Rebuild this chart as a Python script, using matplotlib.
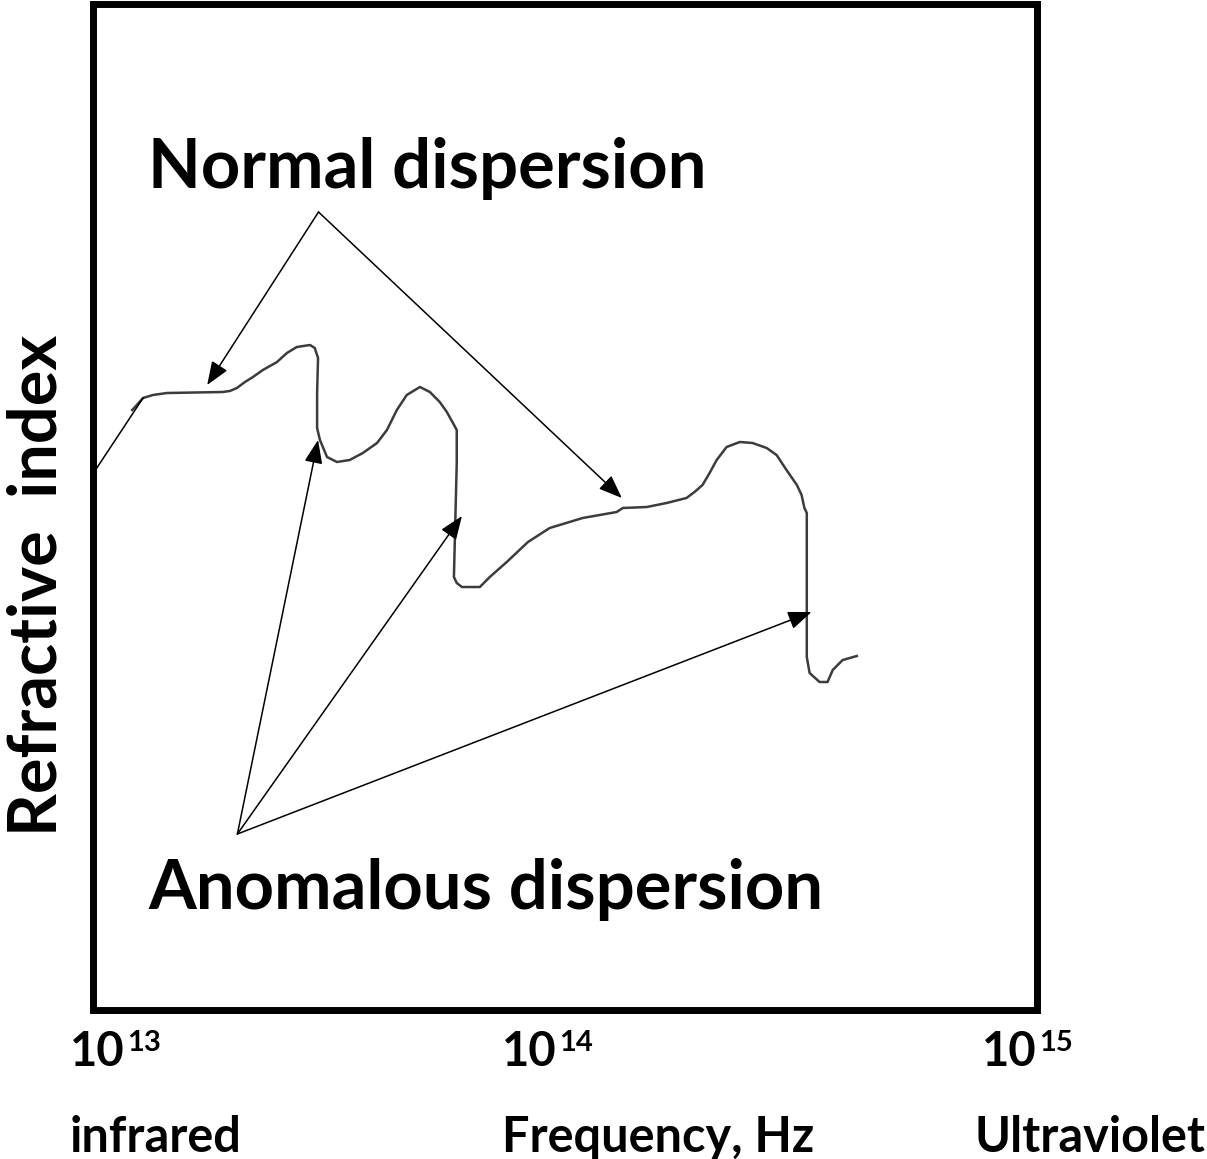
import matplotlib
matplotlib.use('Agg')
import matplotlib.pyplot as plt

# refractive index curve
# x: log10 of frequency (Hz), y: refractive index in arbitrary units
log_freq = [13.082, 13.088, 13.105, 13.126, 13.156, 13.274, 13.289, 13.304, 13.321, 13.338,
            13.359, 13.389, 13.410, 13.431, 13.459, 13.469, 13.476, 13.474, 13.474, 13.480,
            13.495, 13.516, 13.543, 13.571, 13.601, 13.622, 13.643, 13.664, 13.692, 13.713,
            13.734, 13.749, 13.762, 13.770, 13.770, 13.764, 13.770, 13.781, 13.819, 13.840,
            13.876, 13.921, 13.967, 14.037, 14.109, 14.122, 14.173, 14.215, 14.257, 14.274,
            14.291, 14.306, 14.321, 14.342, 14.370, 14.397, 14.427, 14.448, 14.469, 14.491,
            14.501, 14.507, 14.512, 14.512, 14.518, 14.539, 14.556, 14.567, 14.588, 14.618]
index = [599, 602, 611, 614, 616, 617, 618, 621, 627, 632,
         639, 647, 656, 662, 664, 661, 651, 616, 581, 569,
         552, 547, 549, 556, 566, 579, 599, 614, 622, 617,
         607, 597, 586, 579, 546, 432, 426, 422, 422, 432,
         447, 467, 481, 491, 497, 501, 502, 506, 511, 517,
         524, 536, 549, 562, 567, 566, 561, 554, 539, 524,
         514, 501, 496, 352, 336, 327, 327, 339, 349, 353]

# stray line at the left edge
stray_x = [13.0, 13.105]
stray_y = [536, 611]

# arrow targets (log10 freq, index) and the common tail for each label
normal_heads = [(13.241, 624), (14.120, 511)]
normal_tail = (13.477, 797)
anomalous_heads = [(13.476, 569), (13.781, 493), (14.522, 397)]
anomalous_tail = (13.305, 175)

freq_exponents = ['13', '14', '15']
bands = ['infrared', 'Frequency, Hz', 'Ultraviolet']

W, H = 1207, 1159
plt.rcParams['font.family'] = ['Lato', 'DejaVu Sans']

fig = plt.figure(figsize=(W / 100, H / 100), dpi=100)
ax = fig.add_axes([93.5 / W, 1 - 1010 / H, (1037 - 93.5) / W, (1010 - 3.5) / H])
ax.set_xlim(13, 15)
ax.set_ylim(-1, 1005.5)
for s in ax.spines.values():
    s.set_linewidth(5.0)
    s.set_color('black')
ax.set_xticks([])
ax.set_yticks([])

ax.plot(log_freq, index, color='#3c3c3c', lw=1.8, solid_joinstyle='round')
ax.plot(stray_x, stray_y, color='black', lw=1.1)

astyle = dict(arrowstyle='-|>,head_length=0.72,head_width=0.28', mutation_scale=20,
              color='black', lw=1.1, shrinkA=0, shrinkB=0)
for h in normal_heads:
    ax.annotate('', xy=h, xytext=normal_tail, arrowprops=astyle)
for h in anomalous_heads:
    ax.annotate('', xy=h, xytext=anomalous_tail, arrowprops=astyle)

# labels
fig.text(148 / W, 1 - 188 / H, 'Normal dispersion', fontsize=49.5, fontweight='bold',
         ha='left', va='baseline')
fig.text(148 / W, 1 - 909 / H, 'Anomalous dispersion', fontsize=49.5, fontweight='bold',
         ha='left', va='baseline')
fig.text(57 / W, 1 - 585 / H, 'Refractive  index', fontsize=48, fontweight='bold',
         rotation=90, rotation_mode='anchor', ha='center', va='baseline')

# frequency tick labels: "10" with a superscript exponent
tick_left = [70, 502, 982]
for e, px in zip(freq_exponents, tick_left):
    fig.text(px / W, 1 - 1066 / H, '10', fontsize=34, fontweight='bold',
             ha='left', va='baseline')
    fig.text((px + 57) / W, 1 - 1051 / H, e, fontsize=21, fontweight='bold',
             ha='left', va='baseline')

for b, px in zip(bands[:2], tick_left[:2]):
    fig.text(px / W, 1 - 1152 / H, b, fontsize=35, fontweight='bold',
             ha='left', va='baseline')
fig.text(1206 / W, 1 - 1152 / H, bands[2], fontsize=35, fontweight='bold',
         ha='right', va='baseline')

fig.savefig('out.png', dpi=100)
